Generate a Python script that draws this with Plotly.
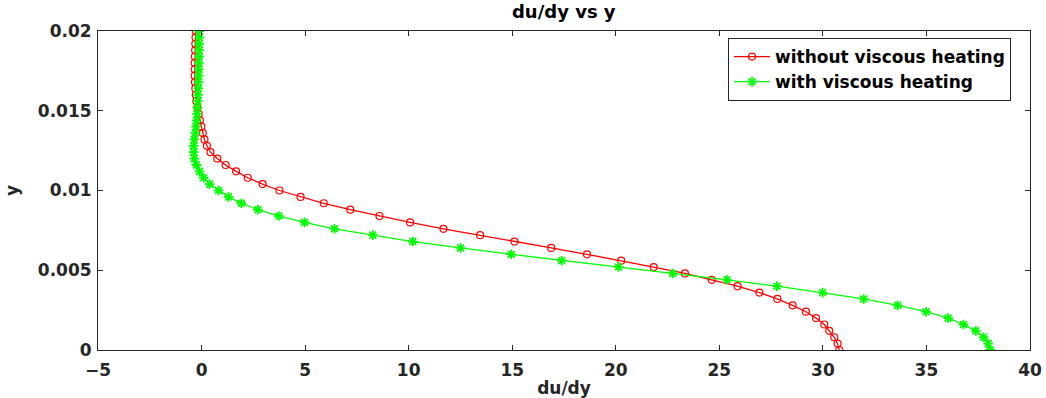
import numpy as np
import plotly.graph_objects as go

# wall-normal coordinate (51 stations from the wall to the edge)
y = np.round(np.arange(51) * 0.0004, 4)

# velocity gradient without viscous heating
dudy_no_heating = [
    30.79, 30.71, 30.55, 30.31, 30.07, 29.67, 29.18, 28.54, 27.80, 26.93,
    25.88, 24.63, 23.34, 21.83, 20.26, 18.61, 16.88, 15.11, 13.45, 11.68,
    10.07, 8.59, 7.18, 5.90, 4.78, 3.76, 2.95, 2.23, 1.67, 1.16,
    0.76, 0.43, 0.26, 0.14, 0.06, -0.01, -0.08, -0.14, -0.20, -0.25,
    -0.28, -0.30, -0.32, -0.33, -0.33, -0.33, -0.32, -0.31, -0.30, -0.29,
    -0.28,
]

# velocity gradient with viscous heating
dudy_heating = [
    38.08, 37.98, 37.76, 37.39, 36.79, 36.05, 34.98, 33.61, 31.97, 29.99,
    27.78, 25.37, 22.75, 20.13, 17.39, 14.95, 12.50, 10.20, 8.27, 6.42,
    4.97, 3.73, 2.72, 1.92, 1.30, 0.82, 0.39, 0.10, -0.10, -0.25,
    -0.35, -0.38, -0.38, -0.35, -0.30, -0.27, -0.24, -0.22, -0.20, -0.18,
    -0.17, -0.16, -0.15, -0.14, -0.13, -0.13, -0.12, -0.12, -0.12, -0.11,
    -0.11,
]

x_ticks = [-5, 0, 5, 10, 15, 20, 25, 30, 35, 40]
y_ticks = [0, 0.005, 0.01, 0.015, 0.02]
y_tick_text = ["0", "0.005", "0.01", "0.015", "0.02"]

FONT = "DejaVu Sans"
AXIS_COLOR = "#262626"

fig = go.Figure()
fig.add_trace(go.Scatter(
    x=dudy_no_heating, y=y, mode="lines+markers",
    name="without viscous heating",
    line=dict(color="#ff0000", width=1.3),
    marker=dict(symbol="circle-open", size=7, color="#ff0000",
                line=dict(width=1.2, color="#ff0000")),
))
fig.add_trace(go.Scatter(
    x=dudy_heating, y=y, mode="lines+markers",
    name="with viscous heating",
    line=dict(color="#00ff00", width=1.3),
    marker=dict(symbol="asterisk-open", size=8, color="#00ff00",
                line=dict(width=1.8, color="#00ff00")),
))

axis_common = dict(
    showline=True, linecolor=AXIS_COLOR, linewidth=1,
    mirror="ticks", ticks="inside", ticklen=5, tickwidth=1,
    tickcolor=AXIS_COLOR, showgrid=False, zeroline=False,
    automargin=False,
    tickfont=dict(family=FONT, size=17, color=AXIS_COLOR, weight="bold"),
)

fig.update_layout(
    width=1046, height=398,
    margin=dict(l=98, r=16, t=31, b=48),
    paper_bgcolor="white", plot_bgcolor="white",
    title=dict(text="du/dy vs y", x=0.539, xanchor="center",
               y=0.97, yanchor="middle",
               font=dict(family=FONT, size=18, color="black", weight="bold")),
    xaxis=dict(range=[-5, 40], tickvals=x_ticks, ticklabelstandoff=5,
               title=dict(text="du/dy", standoff=2,
                          font=dict(family=FONT, size=17, color=AXIS_COLOR, weight="bold")),
               **axis_common),
    yaxis=dict(range=[0, 0.02], tickvals=y_ticks, ticktext=y_tick_text,
               ticklabelstandoff=2,
               title=dict(text="y", standoff=14,
                          font=dict(family=FONT, size=17, color=AXIS_COLOR, weight="bold")),
               **axis_common),
    legend=dict(x=0.676, y=0.978, xanchor="left", yanchor="top",
                bgcolor="white", bordercolor=AXIS_COLOR, borderwidth=1,
                font=dict(family=FONT, size=17, color="black", weight="bold"),
                itemwidth=36, tracegroupgap=0),
    showlegend=True,
)

fig.write_html("out.html")
